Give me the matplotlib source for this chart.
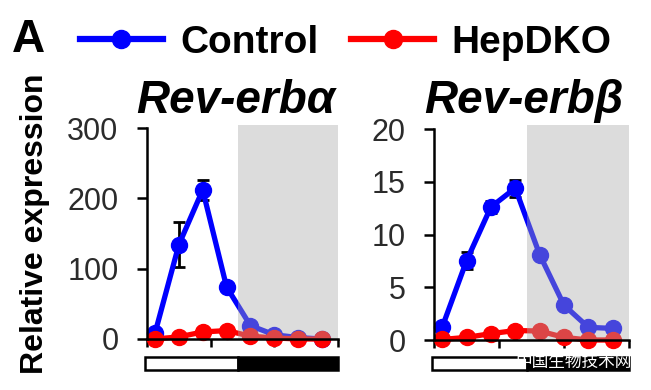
import matplotlib
matplotlib.use("Agg")
import matplotlib.pyplot as plt
from matplotlib.lines import Line2D
from matplotlib.patches import Rectangle

plt.rcParams['font.family'] = ['Liberation Sans', 'DejaVu Sans']

# ZT time points (h)
zt = [1, 4, 7, 10, 13, 16, 19, 22]
dark_start = 11.4

# Rev-erb alpha
alpha_ctrl = [8, 134, 212, 74, 19, 6, 2, 0]
alpha_ctrl_err = [0, 32, 14, 0, 0, 0, 0, 0]
alpha_ko = [0, 3, 10, 12, 4, 1.5, 0, 0]

# Rev-erb beta
beta_ctrl = [1.2, 7.5, 12.6, 14.4, 8.1, 3.3, 1.2, 1.1]
beta_ctrl_err = [0, 0.8, 0.6, 0.8, 0, 0, 0, 0]
beta_ko = [0.05, 0.25, 0.6, 0.9, 0.85, 0.25, 0, 0]

alpha_ticks = [0, 100, 200, 300]
beta_ticks = [0, 5, 10, 15, 20]

BLUE = '#0000ff'
RED = '#ff0000'
W, H = 651, 390

fig = plt.figure(figsize=(W / 100, H / 100), dpi=100)


def panel(left, right, zero_y, top_y, ymax, yticks, ctrl, err, ko, title, title_x):
    ax = fig.add_axes([left / W, (H - zero_y) / H, (right - left) / W, (zero_y - top_y) / H])
    ax.set_xlim(0, 24)
    ax.set_ylim(0, ymax)
    ax.errorbar(zt, ctrl, yerr=err, fmt='none', ecolor='black', elinewidth=2,
                capsize=4.5, capthick=2, zorder=2)
    ax.plot(zt, ctrl, '-o', color=BLUE, lw=3.8, ms=11.5, clip_on=False, zorder=3)
    ax.plot(zt, ko, '-o', color=RED, lw=3.8, ms=11.5, clip_on=False, zorder=4)
    # dark phase: translucent gray on top of the lines
    ax.axvspan(dark_start, 24, color=(0.665, 0.665, 0.675), alpha=0.41, lw=0, zorder=5)
    for s in ['top', 'right']:
        ax.spines[s].set_visible(False)
    for s in ['left', 'bottom']:
        ax.spines[s].set_linewidth(1.8)
        ax.spines[s].set_zorder(6)
    ax.spines['left'].set_bounds(0, yticks[-1])
    ax.set_yticks(yticks)
    ax.set_xticks([0, 8, 16, 24])
    ax.set_xticklabels([])
    ax.tick_params(axis='y', length=7.5, width=1.8, pad=13, labelsize=22, labelcolor='#2b2b2b')
    ax.tick_params(axis='x', length=6, width=1.8)
    fig.text(title_x / W, (H - 113) / H, title, fontsize=33, fontweight='bold',
             fontstyle='italic', ha='left', va='baseline')

    # light / dark bar below the axis
    bar = fig.add_axes([left / W, (H - 370) / H, (right - left) / W, 13 / H])
    bar.set_xlim(0, 24)
    bar.set_ylim(0, 1)
    bar.axis('off')
    bar.add_patch(Rectangle((-0.25, 0), dark_start + 0.25, 1, facecolor='white',
                            edgecolor='black', lw=1.8, clip_on=False))
    bar.add_patch(Rectangle((dark_start, 0), 24 - dark_start, 1, facecolor='black',
                            edgecolor='black', lw=1.8, clip_on=False))
    return ax


panel(147, 338, 339, 124.5, 305, alpha_ticks, alpha_ctrl, alpha_ctrl_err, alpha_ko,
      'Rev-erb\u03b1', 136)
panel(434, 629, 340, 125, 20.38, beta_ticks, beta_ctrl, beta_ctrl_err, beta_ko,
      'Rev-erb\u03b2', 424)

fig.text(35 / W, (H - 224) / H, 'Relative expression', rotation=90, fontsize=23,
         fontweight='bold', ha='center', va='center')
fig.text(12 / W, (H - 52) / H, 'A', fontsize=33, fontweight='bold', ha='left', va='baseline')

handles = [Line2D([], [], color=BLUE, lw=4.5, marker='o', ms=13),
           Line2D([], [], color=RED, lw=4.5, marker='o', ms=13)]
fig.legend(handles, ['Control', 'HepDKO'], loc='center left',
           bbox_to_anchor=(80 / W, (H - 43) / H), ncol=2, frameon=False,
           borderpad=0, borderaxespad=0, handlelength=2.13, handletextpad=0.44,
           columnspacing=0.85, prop={'size': 28, 'weight': 'bold'})

# watermark
fig.text(574 / W, (H - 362) / H, '中国生物技术网', fontsize=12, color='white',
         family=['Noto Sans CJK SC', 'DejaVu Sans'], ha='center', va='center')

fig.savefig('out.png', dpi=100)
